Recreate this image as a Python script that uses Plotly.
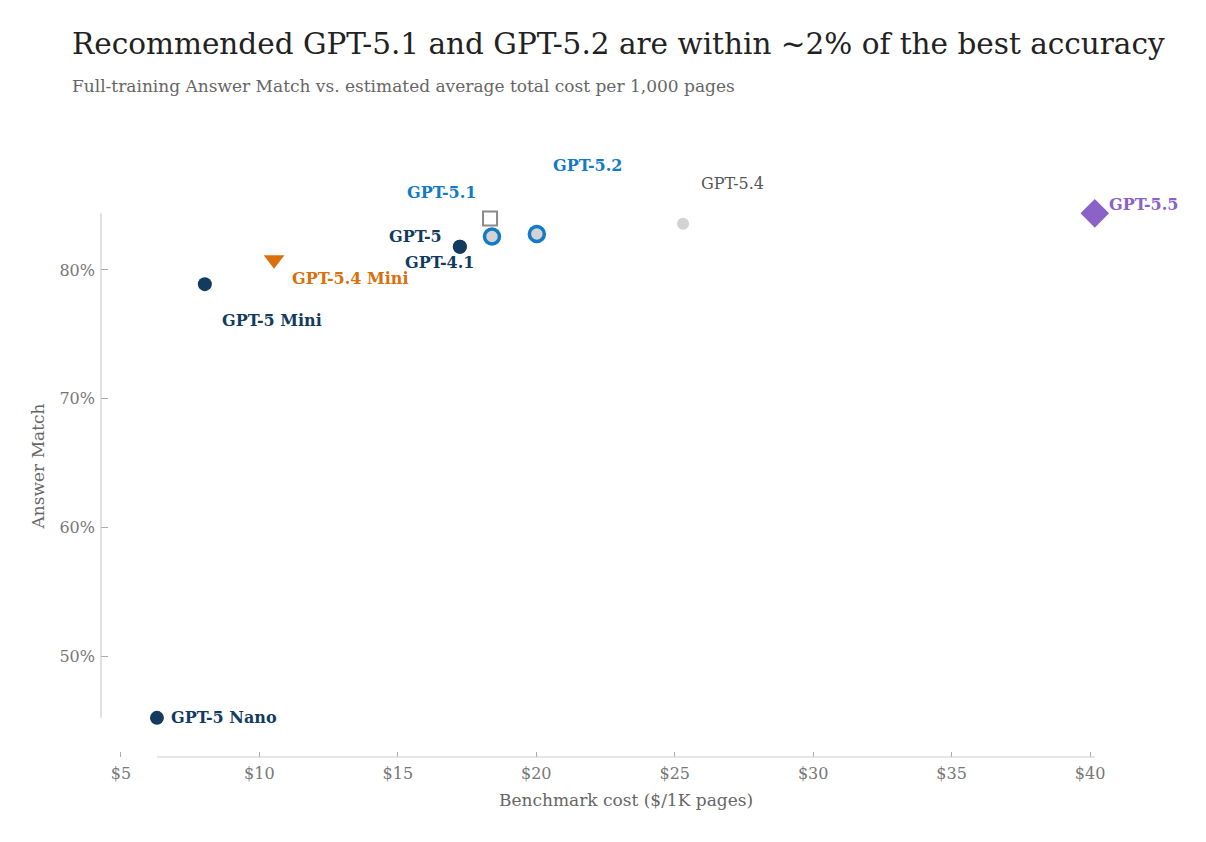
import plotly.graph_objects as go

models = ["GPT-5 Nano", "GPT-5 Mini", "GPT-5.4 Mini", "GPT-5", "GPT-4.1",
          "GPT-5.1 (alt)", "GPT-5.1", "GPT-5.2", "GPT-5.4", "GPT-5.5"]
cost = [6.30, 8.03, 10.53, 17.24, 17.24, 18.33, 18.40, 20.02, 25.30, 40.17]
answer_match = [45.2, 78.9, 80.8, 81.8, 81.8, 84.0, 82.6, 82.8, 83.6, 84.4]

x_ticks = [5, 10, 15, 20, 25, 30, 35, 40]
x_tick_text = ["$5", "$10", "$15", "$20", "$25", "$30", "$35", "$40"]
y_ticks = [50, 60, 70, 80]
y_tick_text = ["50%", "60%", "70%", "80%"]

NAVY = "#123b5e"
ORANGE = "#d9700b"
BLUE = "#127ac6"
GRAYFILL = "#d3d3d3"
PURPLE = "#8a62c8"
SERIF = "DejaVu Serif"

styles = {
    "GPT-5 Nano": dict(symbol="circle", size=14, color=NAVY, line=dict(width=0)),
    "GPT-5 Mini": dict(symbol="circle", size=14, color=NAVY, line=dict(width=0)),
    "GPT-5.4 Mini": dict(symbol="triangle-down", size=18, color=ORANGE, line=dict(width=0)),
    "GPT-5": dict(symbol="circle", size=14, color=NAVY, line=dict(width=0)),
    "GPT-4.1": dict(symbol="circle", size=14, color=NAVY, line=dict(width=0)),
    "GPT-5.1 (alt)": dict(symbol="square-open", size=14, color="#8a8a8a", line=dict(width=2, color="#8a8a8a")),
    "GPT-5.1": dict(symbol="circle", size=15, color=GRAYFILL, line=dict(width=3.5, color=BLUE)),
    "GPT-5.2": dict(symbol="circle", size=15, color=GRAYFILL, line=dict(width=3.5, color=BLUE)),
    "GPT-5.4": dict(symbol="circle", size=12, color=GRAYFILL, line=dict(width=0)),
    "GPT-5.5": dict(symbol="diamond", size=22, color=PURPLE, line=dict(width=0)),
}

# label: (text, color, bold, xanchor, xshift, yshift)
labels = {
    "GPT-5 Nano": ("GPT-5 Nano", NAVY, True, "left", 12, 0),
    "GPT-5 Mini": ("GPT-5 Mini", NAVY, True, "left", 15, -36),
    "GPT-5.4 Mini": ("GPT-5.4 Mini", ORANGE, True, "left", 16, -19),
    "GPT-5": ("GPT-5", NAVY, True, "right", -16, 10),
    "GPT-4.1": ("GPT-4.1", NAVY, True, "center", -20, -16),
    "GPT-5.1": ("GPT-5.1", BLUE, True, "center", -50, 44),
    "GPT-5.2": ("GPT-5.2", BLUE, True, "center", 51, 68),
    "GPT-5.4": ("GPT-5.4", "#555555", False, "left", 16, 40),
    "GPT-5.5": ("GPT-5.5", PURPLE, True, "left", 12, 9),
}

fig = go.Figure()
for m, c, a in zip(models, cost, answer_match):
    s = styles[m]
    fig.add_trace(go.Scatter(
        x=[c], y=[a], mode="markers", name=m, showlegend=False,
        cliponaxis=False,
        marker=dict(symbol=s["symbol"], size=s["size"], color=s["color"], line=s["line"]),
    ))
    if m in labels:
        t, col, bold, xa, xs, ys = labels[m]
        fig.add_annotation(
            x=c, y=a, text=f"<b>{t}</b>" if bold else t, showarrow=False,
            xanchor=xa, yanchor="middle", xshift=xs, yshift=ys,
            font=dict(family=SERIF, size=16, color=col),
        )

# title and subtitle
fig.add_annotation(
    xref="paper", yref="paper", x=-31 / 1050, y=(757 - 44) / 582,
    xanchor="left", yanchor="middle", showarrow=False,
    text="Recommended GPT-5.1 and GPT-5.2 are within ~2% of the best accuracy",
    font=dict(family=SERIF, size=29.5, color="#222222"),
)
fig.add_annotation(
    xref="paper", yref="paper", x=-31 / 1050, y=(757 - 86) / 582,
    xanchor="left", yanchor="middle", showarrow=False,
    text="Full-training Answer Match vs. estimated average total cost per 1,000 pages",
    font=dict(family=SERIF, size=17, color="#666666"),
)

# range-frame axis lines spanning the data extent
fig.add_shape(type="line", xref="x domain", yref="y", x0=0, x1=0,
              y0=min(answer_match), y1=max(answer_match),
              line=dict(color="#cccccc", width=1.2))
fig.add_shape(type="line", xref="x", yref="y domain", y0=0, y1=0,
              x0=min(cost), x1=max(cost),
              line=dict(color="#cccccc", width=1.2))

fig.update_layout(
    width=1206, height=842,
    margin=dict(l=93, r=63, t=167, b=93, autoexpand=False),
    paper_bgcolor="white", plot_bgcolor="white",
    font=dict(family=SERIF, color="#777777"),
    xaxis=dict(
        range=[4.28, 42.2], tickvals=x_ticks, ticktext=x_tick_text,
        showgrid=False, zeroline=False, showline=False, automargin=False,
        ticks="inside", ticklen=5, tickcolor="#aaaaaa", tickwidth=1.2,
        ticklabelstandoff=5,
        tickfont=dict(family=SERIF, size=16, color="#777777"),
        title=dict(text="Benchmark cost ($/1K pages)", standoff=12,
                   font=dict(family=SERIF, size=17, color="#666666")),
    ),
    yaxis=dict(
        range=[42.16, 87.38], tickvals=y_ticks, ticktext=y_tick_text,
        showgrid=False, zeroline=False, showline=False, automargin=False,
        ticks="inside", ticklen=7, tickcolor="#aaaaaa", tickwidth=1.2,
        ticklabelstandoff=5,
        tickfont=dict(family=SERIF, size=16, color="#777777"),
        title=dict(text="Answer Match", standoff=10,
                   font=dict(family=SERIF, size=17, color="#666666")),
    ),
)

fig.write_html("out.html")
